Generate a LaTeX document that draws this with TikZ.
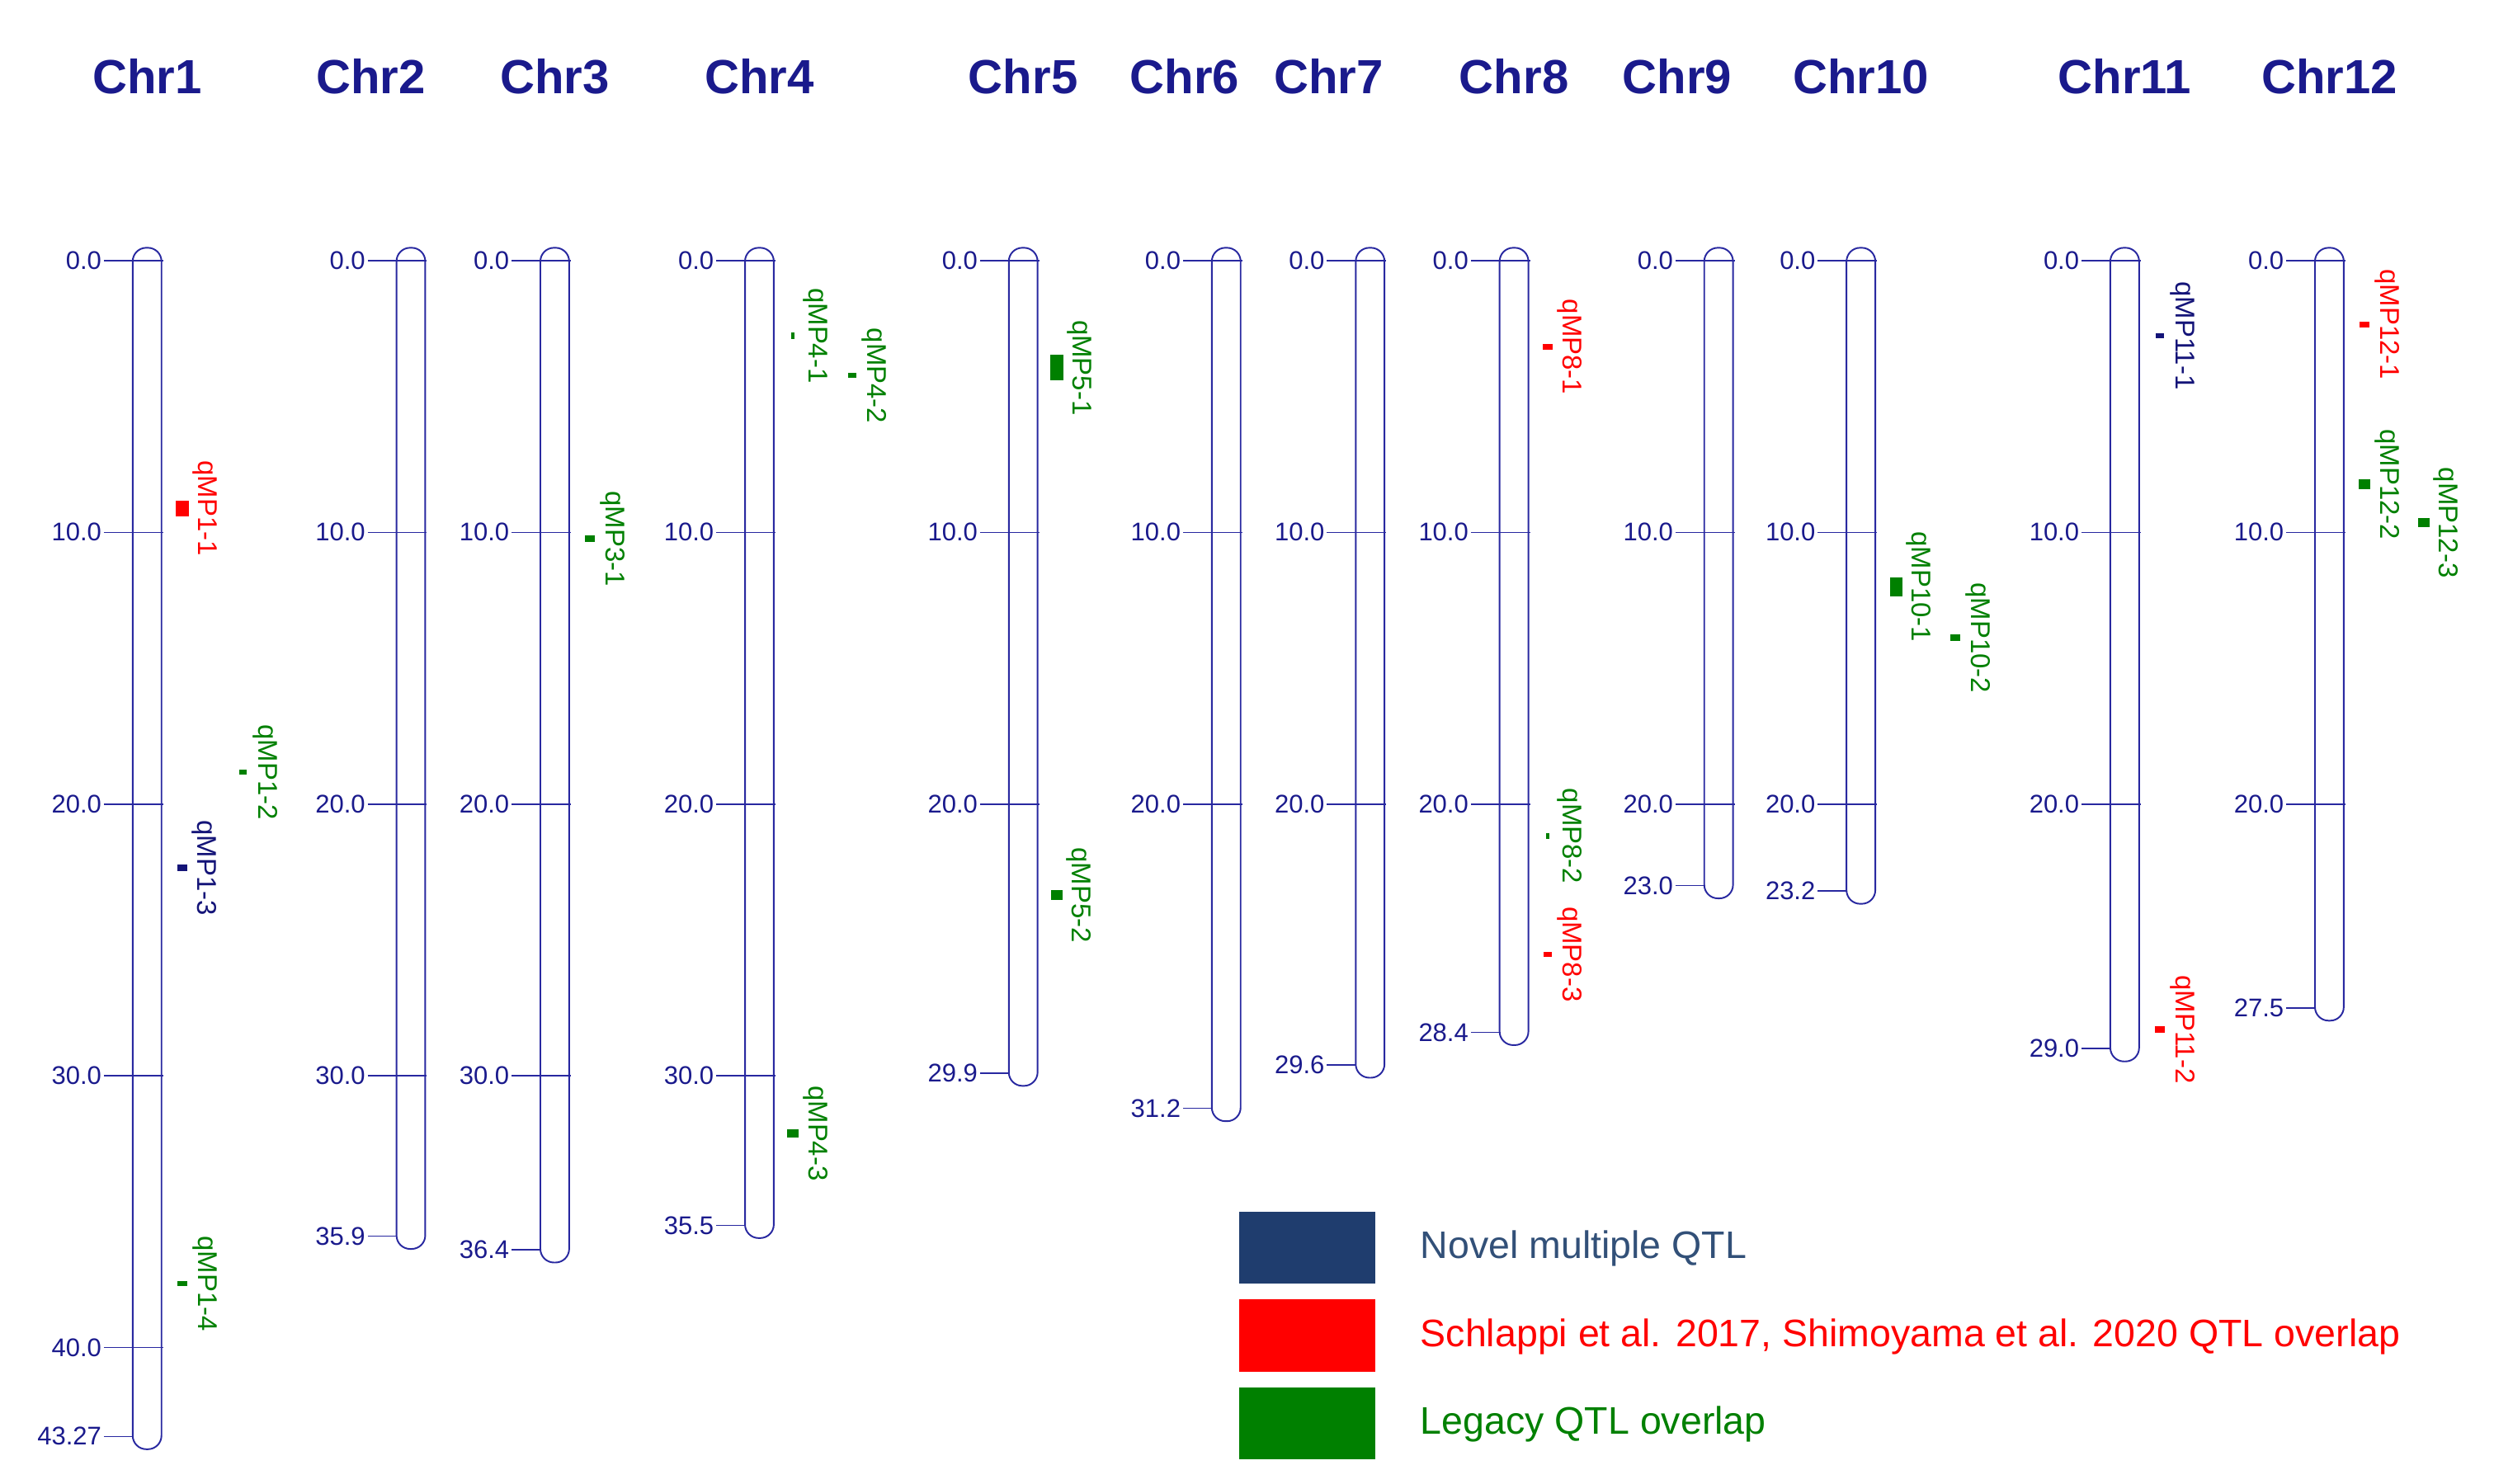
\documentclass[tikz,border=0pt]{standalone}
\usepackage{fontspec}
\setmainfont{Liberation Sans}
\definecolor{nv}{RGB}{26,26,140}
\definecolor{chrc}{RGB}{40,40,160}
\definecolor{qg}{RGB}{0,128,0}
\definecolor{qr}{RGB}{255,0,0}
\definecolor{qb}{RGB}{20,20,120}
\definecolor{lb}{RGB}{31,61,110}
\definecolor{lt}{RGB}{50,80,120}
\begin{document}
\begin{tikzpicture}[x=1pt,y=-1pt,
  title/.style={font=\fontsize{30}{30}\selectfont\bfseries,text=nv},
  tick/.style={font=\fontsize{16}{16}\selectfont,text=nv,anchor=east},
  qlab/.style={font=\fontsize{17}{17}\selectfont,rotate=-90,anchor=center},
  leg/.style={font=\fontsize{24}{24}\selectfont,anchor=west}]
\useasboundingbox (0,0) rectangle (1560,928);
\foreach \n/\tx/\cx/\L in {1/92/92/43.27,2/232/257/35.9,3/347/347/36.4,4/475/475/35.5,5/640/640/29.9,6/741/767/31.2,7/831/857/29.6,8/947/947/28.4,9/1049/1075/23.0,10/1164/1164/23.2,11/1329/1329/29.0,12/1457/1457/27.5}{
  \node[title] (t\n) at (\tx,48) {Chr\n};
  \draw[chrc,line width=1pt,rounded corners=8.5] (\cx-9,155) rectangle (\cx+9,163+17*\L+8);
  \pgfmathtruncatemacro{\nt}{floor((\L-2)/10)}
  \foreach \k in {0,...,\nt}{
    \draw[chrc,line width=0.8pt] (\cx-27,163+170*\k) -- (\cx+10,163+170*\k);
    \ifnum\k=0 \node[tick] at (\cx-25,163) {0.0};
    \else \node[tick] at (\cx-25,163+170*\k) {\k0.0};\fi
  }
  \draw[chrc,line width=0.8pt] (\cx-27,163+17*\L) -- (\cx-9,163+17*\L);
  \node[tick] at (\cx-25,163+17*\L) {\L};
}
\foreach \mx/\my/\w/\h/\c/\lab in {
 114/318/8/10/qr/qMP1-1, 152/483/5/3/qg/qMP1-2, 114/543/6/4/qb/qMP1-3, 114/803/6/3/qg/qMP1-4,
 369/337/6/4/qg/qMP3-1,
 496/210/2/4/qg/qMP4-1, 533/235/5/3/qg/qMP4-2, 496/709/7/5/qg/qMP4-3,
 661/230/8/16/qg/qMP5-1, 661/560/7/6/qg/qMP5-2,
 968/217/6/4/qr/qMP8-1, 968/523/2/4/qg/qMP8-2, 968/597/5/3/qr/qMP8-3,
 1186/367/8/12/qg/qMP10-1, 1223/399/6/4/qg/qMP10-2,
 1351/210/5/3/qb/qMP11-1, 1351/644/6/4/qr/qMP11-2,
 1479/203/6/4/qr/qMP12-1, 1479/303/7/6/qg/qMP12-2, 1516/327/7/6/qg/qMP12-3}{
  \fill[\c] (\mx-\w/2,\my-\h/2) rectangle (\mx+\w/2,\my+\h/2);
  \node[qlab,text=\c] (q\lab) at (\mx+14,\my) {\lab};
}
\fill[lb] (775,758) rectangle (860,803);
\fill[qr] (775,813) rectangle (860,858);
\fill[qg] (775,868) rectangle (860,913);
\node[leg,text=lt] (l1) at (885,781) {Novel multiple QTL};
\node[leg,text=qr] (l2) at (885,836) {Schlappi et al. 2017, Shimoyama et al. 2020 QTL overlap};
\node[leg,text=qg] (l3) at (885,891) {Legacy QTL overlap};
\end{tikzpicture}
\end{document}
